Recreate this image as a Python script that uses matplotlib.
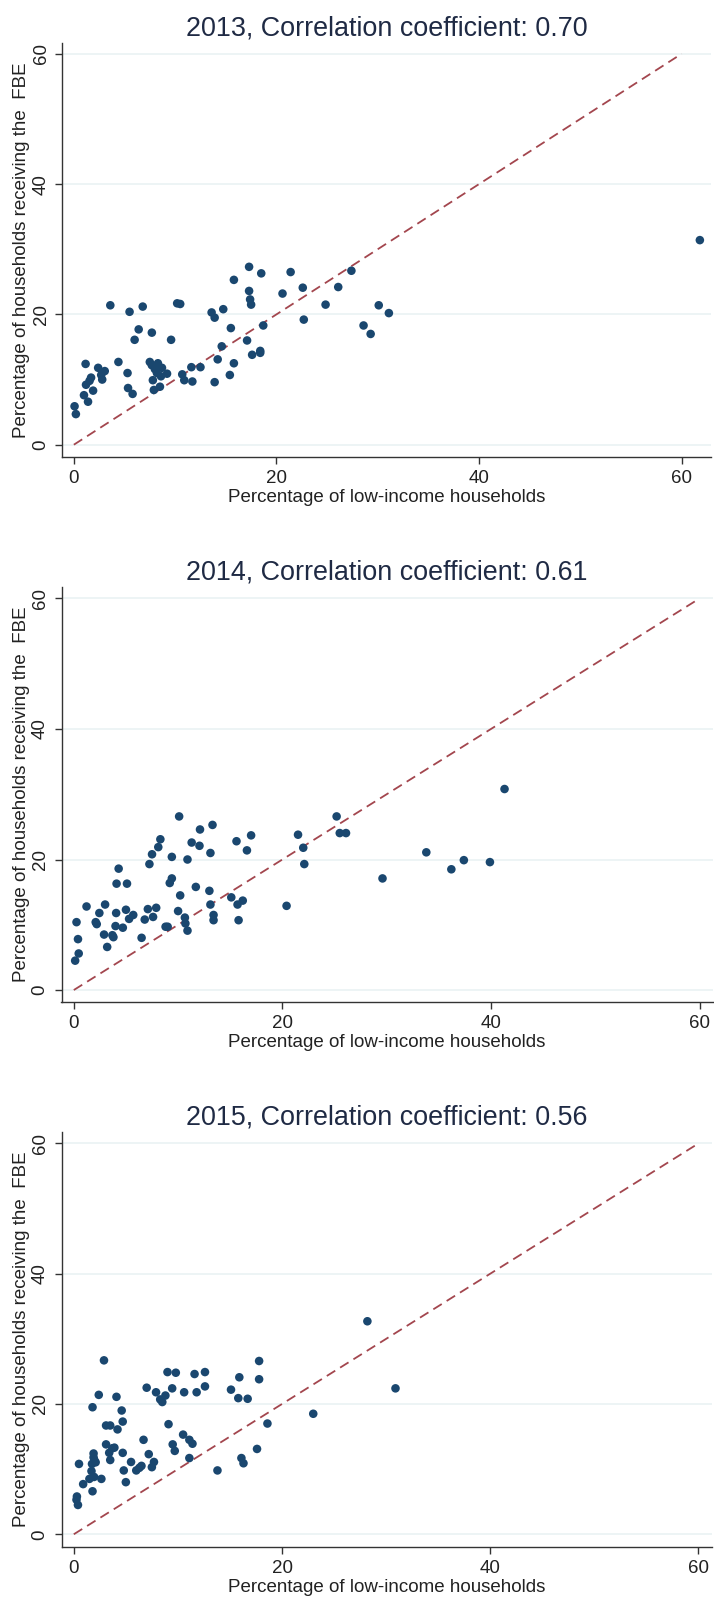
import matplotlib
matplotlib.use('Agg')

from matplotlib import pyplot as plt

plt.rcParams['font.family'] = ['Liberation Sans', 'DejaVu Sans']

# values
years = [2013, 2014, 2015]
corr = ['0.70', '0.61', '0.56']
diag = [0, 60]
ticks = [0, 20, 40, 60]

x13 = [0.07, 0.2, 1.16, 1.0, 1.2, 1.4, 1.7, 1.55, 1.9, 2.4, 2.7, 2.8, 3.05,
       3.6, 4.4, 5.3, 5.35, 5.8, 5.5, 6.0, 6.4, 6.8, 7.7, 7.5, 7.7, 7.8, 7.9,
       8.3, 8.2, 8.6, 8.7, 8.5, 9.2, 8.0, 9.6, 10.2, 10.5, 10.7, 10.9, 11.6,
       11.7, 12.5, 13.6, 13.9, 13.9, 14.2, 14.6, 14.75, 15.4, 15.5, 15.8, 15.8,
       17.1, 17.3, 17.3, 17.4, 17.5, 17.6, 18.4, 18.4, 18.5, 18.7, 20.6, 21.4,
       22.6, 22.7, 24.85, 26.1, 27.4, 28.6, 29.3, 30.1, 31.1, 61.8]
y13 = [5.9, 4.7, 12.4, 7.6, 9.2, 6.6, 10.3, 9.8, 8.3, 11.8, 10.7, 10.0, 11.3,
       21.4, 12.7, 11.0, 8.7, 7.8, 20.4, 16.1, 17.7, 21.2, 17.2, 12.7, 12.2,
       9.9, 8.4, 12.5, 11.0, 10.5, 11.8, 8.9, 10.9, 11.6, 16.1, 21.7, 21.6,
       10.8, 9.9, 11.9, 9.7, 11.9, 20.3, 19.5, 9.6, 13.1, 15.1, 20.8, 10.7,
       17.9, 25.3, 12.5, 16.0, 23.6, 27.3, 22.3, 21.5, 13.8, 14.1, 14.4, 26.3,
       18.3, 23.2, 26.5, 24.1, 19.2, 21.5, 24.2, 26.7, 18.3, 17.0, 21.4, 20.2,
       31.4]

x14 = [0.13, 0.26, 0.4, 0.47, 1.22, 2.1, 2.2, 2.45, 3.0, 2.9, 3.2, 3.7, 3.8,
       4.0, 4.06, 4.1, 4.3, 4.7, 5.0, 5.1, 5.3, 5.7, 6.5, 6.8, 7.1, 7.25, 7.5,
       7.6, 7.9, 8.1, 8.3, 8.8, 9.0, 9.2, 9.4, 9.4, 10.0, 10.1, 10.2, 10.65,
       10.7, 10.9, 10.9, 11.3, 11.7, 12.05, 12.1, 13.0, 13.1, 13.1, 13.3, 13.4,
       13.4, 15.1, 15.6, 15.7, 15.8, 16.2, 16.6, 17.0, 20.4, 21.5, 22.0, 22.1,
       25.2, 25.5, 26.1, 29.6, 33.8, 36.2, 37.4, 39.9, 41.3]
y14 = [4.5, 10.4, 7.8, 5.6, 12.8, 10.4, 10.1, 11.8, 13.1, 8.5, 6.6, 8.4, 8.1,
       9.8, 11.8, 16.3, 18.6, 9.55, 12.3, 16.3, 10.9, 11.5, 8.0, 10.8, 12.4,
       19.3, 20.8, 11.2, 12.6, 21.9, 23.1, 9.7, 9.7, 16.4, 17.1, 20.4, 12.1,
       26.6, 14.5, 11.1, 10.2, 9.1, 20.0, 22.6, 15.8, 22.1, 24.6, 15.2, 13.1,
       21.0, 25.3, 11.5, 10.7, 14.2, 22.8, 13.1, 10.7, 13.7, 21.4, 23.7, 12.9,
       23.8, 21.8, 19.3, 26.6, 24.05, 24.05, 17.1, 21.1, 18.5, 19.9, 19.6, 30.8]

x15 = [0.3, 0.26, 0.4, 0.5, 0.9, 1.8, 1.8, 1.5, 1.7, 1.95, 1.75, 1.9, 1.97,
       2.1, 1.9, 2.4, 2.65, 2.9, 3.1, 3.5, 3.1, 3.4, 3.5, 3.7, 3.9, 4.1, 4.2,
       4.6, 4.7, 4.7, 4.8, 5.0, 5.5, 6.0, 6.3, 6.5, 6.7, 7.0, 7.2, 7.5, 7.7,
       7.9, 8.3, 8.5, 8.8, 9.0, 9.1, 9.45, 9.5, 9.7, 9.8, 10.5, 10.6, 11.1,
       11.4, 11.1, 11.6, 11.8, 12.6, 12.6, 13.8, 15.1, 15.8, 15.9, 16.1, 16.3,
       16.7, 17.6, 17.8, 17.8, 18.6, 23.0, 28.2, 30.9]
y15 = [5.8, 5.3, 4.5, 10.8, 7.7, 6.6, 19.5, 8.5, 9.7, 8.8, 10.8, 12.4, 11.4,
       11.05, 11.8, 21.4, 8.5, 26.7, 16.7, 16.7, 13.8, 12.5, 11.4, 13.2, 13.3,
       21.1, 16.1, 19.0, 17.3, 12.5, 9.8, 8.0, 11.1, 9.8, 10.2, 10.5, 14.5,
       22.5, 12.3, 10.3, 11.1, 21.8, 20.7, 20.3, 21.3, 24.9, 16.9, 22.4, 13.8,
       12.8, 24.8, 15.3, 21.8, 14.5, 13.9, 11.7, 24.6, 21.8, 24.9, 22.7, 9.8,
       22.2, 20.9, 24.1, 11.7, 10.9, 20.8, 13.1, 26.6, 23.8, 17.0, 18.5, 32.7,
       22.4]

xs = [x13, x14, x15]
ys = [y13, y14, y15]

# layout in pixels of the 714x1597 figure: left, top, right, bottom
W, H = 714, 1597
boxes = [(62.4, 42.7, 711.0, 456.7),
         (61.5, 586.7, 712.7, 1002.3),
         (61.5, 1131.7, 712.0, 1547.3)]
xlims = [(-1.13, 62.9), (-1.18, 61.26), (-1.18, 61.3)]
ylims = [(-1.84, 61.7), (-1.88, 61.8), (-2.0, 61.8)]

navy = '#1a476f'
maroon = '#a3464e'
axcol = '#333333'

fig = plt.figure(figsize=(W / 100, H / 100), dpi=100)

for i in range(3):
    l, t, r, b = boxes[i]
    ax = fig.add_axes([l / W, 1 - b / H, (r - l) / W, (b - t) / H])
    hpx = b - t

    ax.yaxis.grid(True, color='#eaf2f3', lw=1.2)
    ax.set_axisbelow(True)

    ax.plot(diag, diag, color=maroon, lw=1.3, ls=(0, (5.5, 3.2)), zorder=2)
    ax.scatter(xs[i], ys[i], s=38, color=navy, edgecolors='none', zorder=3)

    ax.set_xlim(*xlims[i])
    ax.set_ylim(*ylims[i])
    ax.set_xticks(ticks)
    ax.set_yticks(ticks)

    for side in ['top', 'right']:
        ax.spines[side].set_visible(False)
    for side in ['left', 'bottom']:
        ax.spines[side].set_color(axcol)
        ax.spines[side].set_linewidth(1.0)

    ax.tick_params(axis='both', direction='out', length=4.7, width=1.0,
                   color=axcol, labelsize=13.5, labelcolor='#222222')
    ax.tick_params(axis='x', pad=4.8)
    ax.tick_params(axis='y', pad=4.5, labelrotation=90)
    for lab in ax.get_yticklabels():
        lab.set_va('center')

    ax.set_title('{}, Correlation coefficient: {}'.format(years[i], corr[i]),
                 fontsize=19.4, color='#1f2a44', pad=5)

    ax.set_xlabel('Percentage of low-income households', fontsize=13.5,
                  color='#222222')
    ax.xaxis.set_label_coords(0.5, -32.0 / hpx)

    ax.text((22 - l) / (r - l), 0.5, 'Percentage of households receiving the  FBE',
            transform=ax.transAxes, rotation=90, ha='center', va='center',
            fontsize=13.5, color='#222222')

fig.savefig('out.png', dpi=100, facecolor='white')
